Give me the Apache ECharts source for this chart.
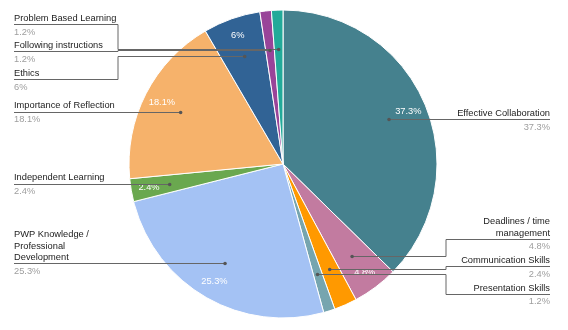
<!DOCTYPE html>
<html>
<head>
<meta charset="utf-8">
<script src="https://cdn.jsdelivr.net/npm/echarts@6/dist/echarts.min.js"></script>
<style>
  html, body { margin: 0; padding: 0; background: #fff; }
  #chart { width: 568px; height: 330px; }
</style>
</head>
<body>
<div id="chart"></div>
<script>
// Slices, clockwise from 12 o'clock
const categories = [
  'Effective Collaboration',
  'Deadlines / time management',
  'Communication Skills',
  'Presentation Skills',
  'PWP Knowledge / Professional Development',
  'Independent Learning',
  'Importance of Reflection',
  'Ethics',
  'Following instructions',
  'Problem Based Learning'
];
const shares = [37.3, 4.8, 2.4, 1.2, 25.3, 2.4, 18.1, 6, 1.2, 1.2];
const sliceColors = [
  '#45818e', '#c27ba0', '#ff9900', '#76a5af', '#a4c2f4',
  '#6aa84f', '#f6b26b', '#316395', '#994499', '#22aa99'
];
// Slices too thin to carry their percentage inside
const unlabelledSlices = [
  'Communication Skills', 'Presentation Skills',
  'Following instructions', 'Problem Based Learning'
];

const FONT = '"Liberation Sans", Arial, sans-serif';
const FS = 9.3;
const W = 568, H = 330;
const CENTER = [283, 164];
const R = 154;
const BOX_W = 104;
const NAME_LH = 11.5;
const VALUE_H = 16;   // value row incl. the gap that holds the leader line

// Word-wrap a legend name so that no line is wider than the label box
const measureCtx = document.createElement('canvas').getContext('2d');
measureCtx.font = FS + 'px ' + FONT;
function wrapName(text) {
  const words = text.split(' ');
  const lines = [];
  let cur = '';
  words.forEach(w => {
    const trial = cur ? cur + ' ' + w : w;
    if (cur && measureCtx.measureText(trial).width > BOX_W) {
      lines.push(cur);
      cur = w;
    } else {
      cur = trial;
    }
  });
  if (cur) lines.push(cur);
  return lines;
}

const chart = echarts.init(document.getElementById('chart'), null, { renderer: 'canvas' });

const coloured = categories.map((name, i) => ({
  name, value: shares[i], itemStyle: { color: sliceColors[i] }
}));
const plain = categories.map((name, i) => ({ name, value: shares[i] }));

const clear = { color: 'rgba(0,0,0,0)', borderWidth: 0 };

// Anchor points reported by the pie layout, and the stacked label tops
const anchors = [];
const placedTop = [];

function legendLayout(params) {
  const rect = params.labelRect;
  const pts = params.labelLinePoints;
  if (!pts) return {};
  const i = params.dataIndex;
  const start = pts[0];
  const isLeft = start[0] < CENTER[0];
  anchors[i] = { x: start[0], y: start[1], left: isLeft };
  if (placedTop[i] == null) return {};
  const nLines = wrapName(categories[i]).length;
  const top = placedTop[i];
  const h = nLines * NAME_LH + VALUE_H;
  const outerX = isLeft ? rect.x : rect.x + rect.width;
  const elbowX = isLeft ? outerX + BOX_W : outerX - BOX_W;
  const lineY = Math.round(top + nLines * NAME_LH + 2) + 0.5;
  const sy = Math.round(start[1]) + 0.5;
  return {
    y: top + h / 2,
    labelLinePoints: [
      [outerX, lineY],
      [elbowX, lineY],
      [elbowX, sy],
      [start[0], sy]
    ]
  };
}

// Stack the labels of one side: overlapping labels are merged into a
// block centred on the mean of their wanted positions.
function stackSide(items) {
  items.sort((a, b) => a.want - b.want);
  let clusters = items.map(it => ({ items: [it], top: it.want, h: it.h }));
  let merged = true;
  while (merged) {
    merged = false;
    for (let k = 1; k < clusters.length; k++) {
      const a = clusters[k - 1], b = clusters[k];
      if (a.top + a.h > b.top) {
        const all = a.items.concat(b.items);
        let off = 0, sum = 0;
        all.forEach(it => { sum += it.want - off; off += it.h; });
        const hTot = off;
        let top = sum / all.length;
        top = Math.max(0, Math.min(H - hTot, top));
        clusters.splice(k - 1, 2, { items: all, top: top, h: hTot });
        merged = true;
        break;
      }
    }
  }
  clusters.forEach(c => {
    let off = 0;
    c.items.forEach(it => { placedTop[it.idx] = c.top + off; off += it.h; });
  });
}

const base = {
  type: 'pie',
  center: CENTER,
  startAngle: 90,
  clockwise: true,
  animation: false,
  emphasis: { disabled: true },
  tooltip: { show: false }
};

function buildOption(graphic) {
  return {
    backgroundColor: '#fff',
    textStyle: { fontFamily: FONT },
    graphic: graphic,
    series: [
      Object.assign({}, base, {
        name: 'slices',
        z: 2,
        radius: [0, R],
        data: coloured,
        itemStyle: { borderColor: '#fff', borderWidth: 1 },
        label: { show: false },
        labelLine: { show: false }
      }),
      Object.assign({}, base, {
        name: 'slice text',
        z: 3,
        radius: [112, R],
        silent: true,
        data: plain,
        itemStyle: clear,
        label: {
          show: true,
          position: 'inside',
          color: '#fff',
          fontFamily: FONT,
          fontSize: FS,
          formatter: p => unlabelledSlices.includes(p.name) ? '' : p.value + '%'
        },
        labelLine: { show: false }
      }),
      Object.assign({}, base, {
        name: 'legend labels',
        z: 4,
        radius: [0, 115],
        right: 4,
        silent: true,
        data: plain,
        itemStyle: clear,
        avoidLabelOverlap: false,
        label: {
          show: true,
          position: 'outside',
          alignTo: 'edge',
          edgeDistance: 14,
          fontFamily: FONT,
          fontSize: FS,
          formatter: p => wrapName(p.name).map(l => '{n|' + l + '}').join('\n') + '\n{v|' + p.value + '%}',
          rich: {
            n: { fontFamily: FONT, fontSize: FS, lineHeight: NAME_LH, color: '#222' },
            v: { fontFamily: FONT, fontSize: FS, lineHeight: 12, color: '#9e9e9e', padding: [4, 0, 0, 0] }
          }
        },
        labelLine: {
          show: true,
          length: 0,
          length2: 0,
          lineStyle: { color: '#666', width: 1 }
        },
        labelLayout: legendLayout
      })
    ]
  };
}

// First pass: let the pie report where each slice's anchor sits
chart.setOption(buildOption([]));

['left', 'right'].forEach(side => {
  const items = [];
  anchors.forEach((a, idx) => {
    if (!a || a.left !== (side === 'left')) return;
    const nLines = wrapName(categories[idx]).length;
    const h = nLines * NAME_LH + VALUE_H;
    items.push({ idx, h, want: a.y - (nLines * NAME_LH + 2) });
  });
  stackSide(items);
});

// Second pass: stacked labels, elbow leader lines and anchor dots
chart.setOption(buildOption(anchors.filter(Boolean).map(a => ({
  type: 'circle',
  silent: true,
  z: 100,
  shape: { cx: a.x, cy: Math.round(a.y) + 0.5, r: 1.8 },
  style: { fill: '#555' }
}))), true);
</script>
</body>
</html>
